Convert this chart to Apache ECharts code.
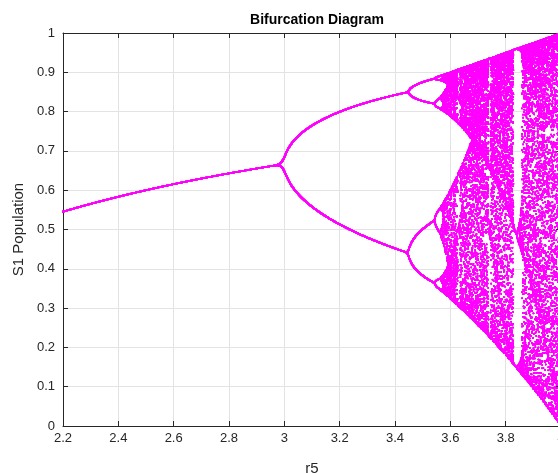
<!DOCTYPE html>
<html>
<head>
<meta charset="utf-8">
<title>Bifurcation Diagram</title>
<script src="https://cdn.jsdelivr.net/npm/echarts@6/dist/echarts.min.js"></script>
<style>
  html, body { margin: 0; padding: 0; background: #fff; }
  #chart { width: 558px; height: 473px; }
</style>
</head>
<body>
<div id="chart"></div>
<script>
// sweep of the growth rate r5 and the settled iterates of S1
const rRange = [2.2, 4.0];
const rStep = [0.0005];
const iterSettings = [150, 20]; // transient steps dropped, steps kept
const startValue = [0.5];
const xTicks = [2.2, 2.4, 2.6, 2.8, 3, 3.2, 3.4, 3.6, 3.8, 4];
const yTicks = [0, 0.1, 0.2, 0.3, 0.4, 0.5, 0.6, 0.7, 0.8, 0.9, 1];

function buildPoints() {
  const points = [];
  const n = Math.round((rRange[1] - rRange[0]) / rStep[0]);
  for (let i = 0; i <= n; i++) {
    const r = rRange[0] + i * rStep[0];
    let s = startValue[0];
    for (let k = 0; k < iterSettings[0]; k++) s = r * s * (1 - s);
    for (let k = 0; k < iterSettings[1]; k++) {
      s = r * s * (1 - s);
      points.push([r, s]);
    }
  }
  return points;
}

const textColor = '#262626';
const font = 'Liberation Sans, Arial, Helvetica, sans-serif';

const chart = echarts.init(document.getElementById('chart'), null, { renderer: 'canvas' });

const axisBase = {
  type: 'value',
  axisLine: { show: true, onZero: false, lineStyle: { color: '#262626', width: 1 } },
  axisTick: { show: true, inside: true, length: 5, lineStyle: { color: '#262626' } },
  splitLine: { show: false },
};
const numLabel = (v) => String(Math.round(v * 10) / 10);

chart.setOption({
  animation: false,
  backgroundColor: '#fff',
  title: {
    text: 'Bifurcation Diagram',
    left: 312,
    textAlign: 'center',
    top: 8,
    textStyle: { fontFamily: font, fontSize: 14, fontWeight: 'bold', color: '#000' },
  },
  grid: { left: 63, top: 33, width: 498, height: 393, containLabel: false, outerBoundsMode: 'none' },
  xAxis: [
    {
      ...axisBase,
      interval: 0.2,
      min: xTicks[0],
      max: xTicks[xTicks.length - 1],
      position: 'bottom',
      name: 'r5',
      nameLocation: 'middle',
      nameGap: 35,
      nameTextStyle: { fontFamily: font, fontSize: 15, color: textColor },
      axisLabel: { fontFamily: font, fontSize: 13, color: textColor, margin: 6, formatter: numLabel },
      splitLine: { show: true, lineStyle: { color: '#e3e3e3', width: 1 } },
    },
    {
      ...axisBase,
      interval: 0.2,
      min: xTicks[0],
      max: xTicks[xTicks.length - 1],
      position: 'top',
      axisLabel: { show: false },
    },
  ],
  yAxis: [
    {
      ...axisBase,
      interval: 0.1,
      min: yTicks[0],
      max: yTicks[yTicks.length - 1],
      position: 'left',
      name: 'S1 Population',
      nameLocation: 'middle',
      nameGap: 32,
      nameRotate: 90,
      nameTextStyle: { fontFamily: font, fontSize: 15, color: textColor },
      axisLabel: { fontFamily: font, fontSize: 13, color: textColor, margin: 8, formatter: numLabel },
      splitLine: { show: true, lineStyle: { color: '#e3e3e3', width: 1 } },
    },
    {
      ...axisBase,
      interval: 0.1,
      min: yTicks[0],
      max: yTicks[yTicks.length - 1],
      position: 'right',
      axisLabel: { show: false },
    },
  ],
  series: [
    {
      type: 'scatter',
      data: buildPoints(),
      symbol: 'circle',
      symbolSize: 1.3,
      large: true,
      largeThreshold: 2000,
      silent: true,
      itemStyle: { color: '#ff00ff' },
    },
  ],
});
</script>
</body>
</html>
